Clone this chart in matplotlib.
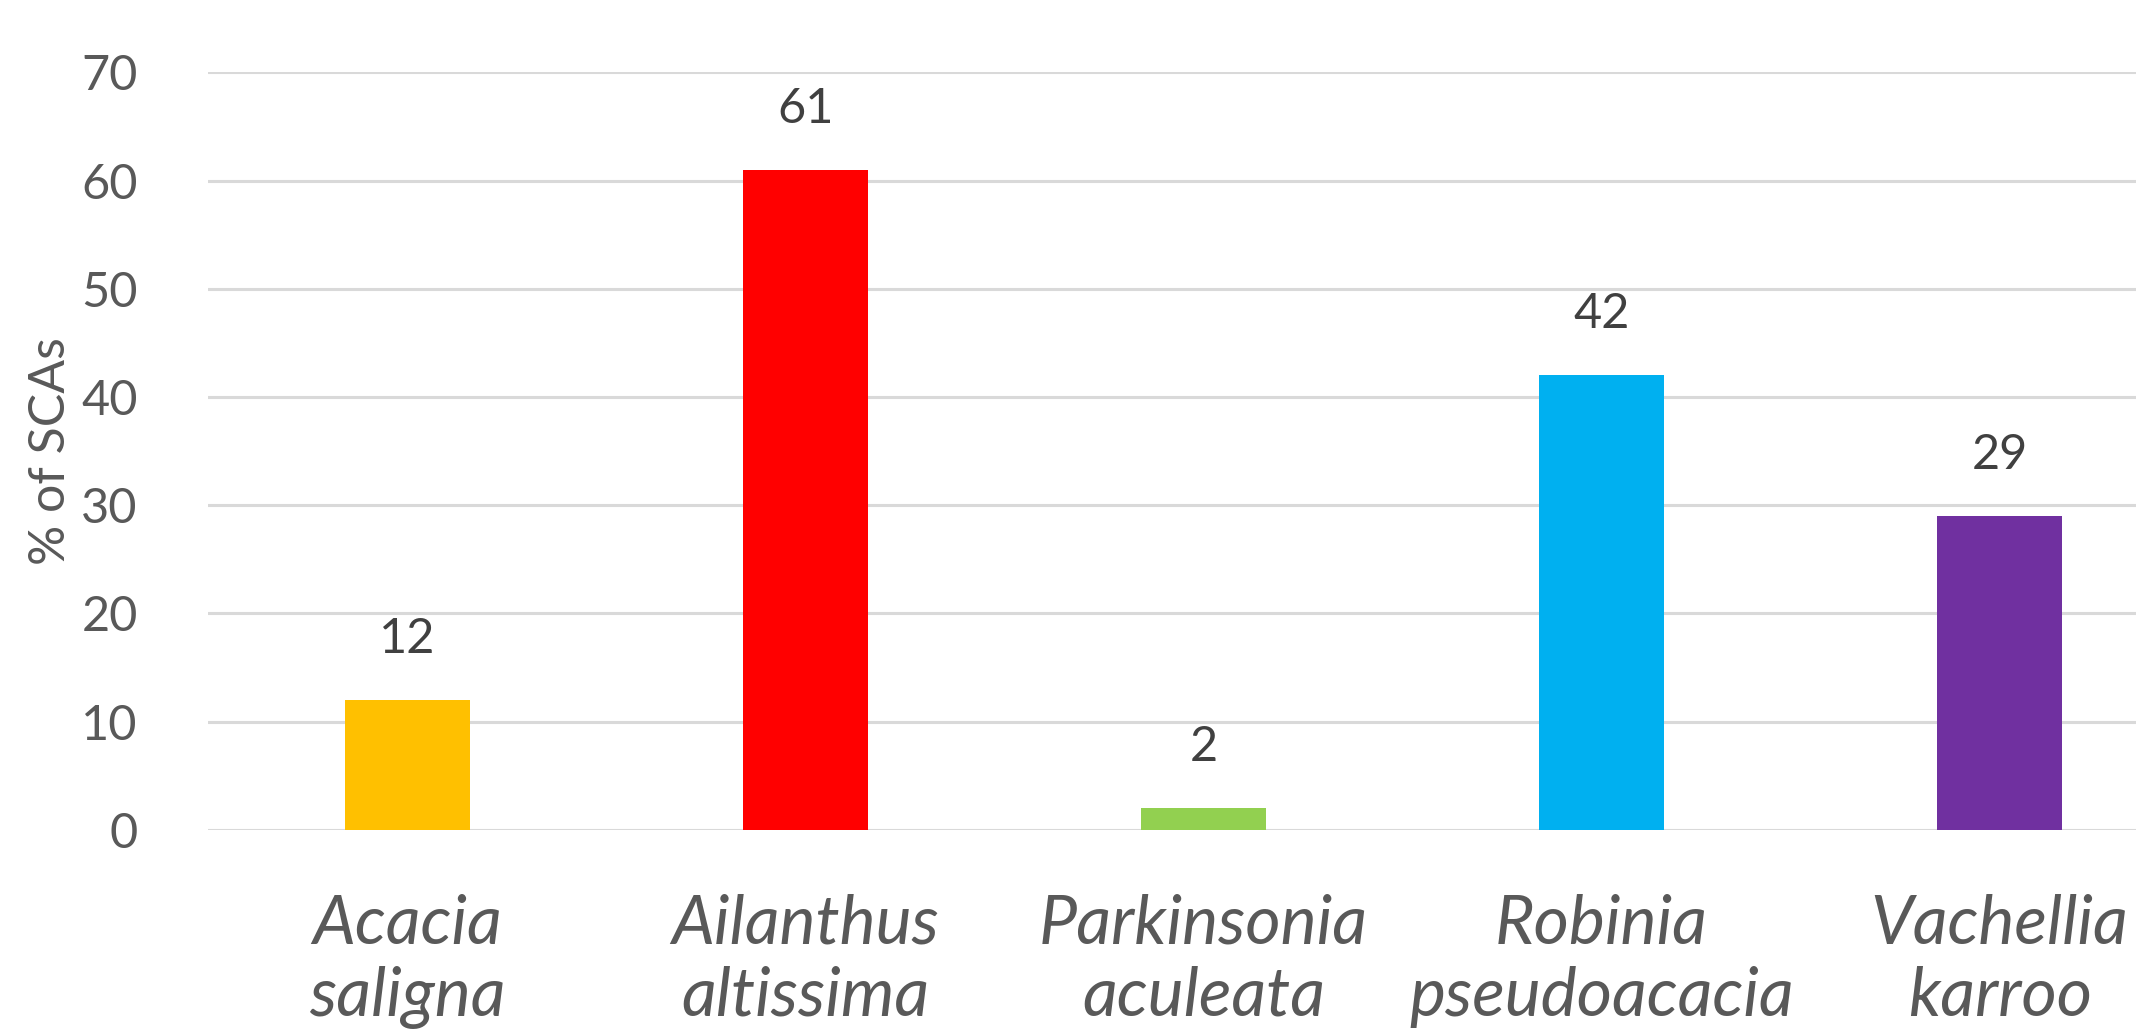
import matplotlib
matplotlib.use("Agg")
import matplotlib.pyplot as plt

# data
species = ["Acacia\nsaligna", "Ailanthus\naltissima", "Parkinsonia\naculeata",
           "Robinia\npseudoacacia", "Vachellia\nkarroo"]
pct_scas = [12, 61, 2, 42, 29]
bar_colors = ["#FFC000", "#FF0000", "#92D050", "#00B0F0", "#7030A0"]
yticks = [0, 10, 20, 30, 40, 50, 60, 70]

text_col = "#595959"
plt.rcParams['font.family'] = ['Lato', 'DejaVu Sans']

fig = plt.figure(figsize=(21.36, 10.30), dpi=100)
# axes run past the right edge, like the cropped original
ax = fig.add_axes([0.0976, 0.1942, 0.9317, 0.7356])

x = list(range(len(species)))
bars = ax.bar(x, pct_scas, width=0.314, color=bar_colors, zorder=3)

ax.set_xlim(-0.5, len(species) - 0.5)
ax.set_ylim(0, 70)
ax.set_yticks(yticks)
ax.yaxis.grid(True, color="#D9D9D9", linewidth=2.2, zorder=0)
ax.set_axisbelow(True)
for s in ax.spines.values():
    s.set_visible(False)

ax.tick_params(axis="y", length=0, pad=51, labelsize=35, labelcolor=text_col)
ax.tick_params(axis="x", length=0, pad=46, labelcolor=text_col)
ax.set_xticks(x)
ax.set_xticklabels(species, fontsize=49, style="italic", linespacing=1.2,
                   va="top")

ax.set_ylabel("% of SCAs", fontsize=36, color=text_col, labelpad=5)

for b, v in zip(bars, pct_scas):
    ax.annotate(str(v), (b.get_x() + b.get_width() / 2, v),
                xytext=(0, 28), textcoords="offset points",
                ha="center", va="bottom", fontsize=35, color="#404040")

fig.savefig("out.png", dpi=100)
